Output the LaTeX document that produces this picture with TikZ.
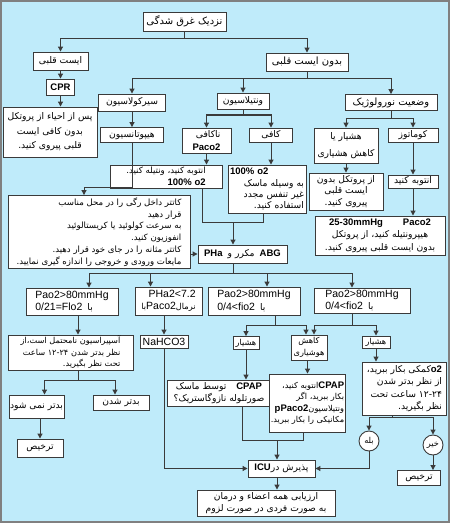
\documentclass[tikz,border=0pt]{standalone}
\usepackage{fontspec}
\setmainfont{Liberation Sans}
\newfontfamily\fafont[Script=Arabic]{DejaVu Sans}
\TeXXeTstate=1
\newcommand\fatext[1]{{\fafont\beginR #1\endR}}
\newcommand\lat[1]{{\fontsize{10.5}{11}\selectfont #1}}
\newcommand\latb[1]{{\fontsize{9.5}{11}\selectfont\bfseries #1}}
\usetikzlibrary{arrows.meta}
\definecolor{skyback}{HTML}{BFEBFA}
\definecolor{edgegray}{HTML}{3A3A3A}

\begin{document}
\begin{tikzpicture}[x=1pt, y=-1pt,
    every node/.style={font=\fontsize{9.2}{12.5}\selectfont},
    box/.style={draw=edgegray, fill=white, line width=0.9pt, inner sep=1pt, align=center},
    small/.style={font=\fontsize{8.2}{11.5}\selectfont},
    large/.style={font=\fontsize{10}{12}\selectfont},
    tight/.style={font=\fontsize{9.2}{11.2}\selectfont},
    bubble/.style={draw=edgegray, fill=white, line width=0.9pt, circle, inner sep=0pt, minimum size=20pt},
    link/.style={draw=edgegray, line width=1pt},
    arr/.style={link, -{Triangle[length=5pt,width=5pt]}},
  ]
  \useasboundingbox (0,0) rectangle (450,524);
  \draw[draw=gray, line width=1.5pt, fill=skyback] (1,1) rectangle (449,522);

  % top of the chart
  \node[box, large, minimum width=83pt, minimum height=19pt] (drown) at (184.5,21.5) {\fatext{نزدیک غرق شدگی}};
  \node[box, minimum width=55pt, minimum height=18pt] (arrest) at (60.5,61) {\fatext{ایست قلبی}};
  \node[box, minimum width=28pt, minimum height=16pt] (cpr) at (60.5,87) {\latb{CPR}};
  \node[box, font=\fontsize{9.2}{14.5}\selectfont, minimum width=94pt, minimum height=50pt] (arrestnote) at (50,132) {\fatext{پس از احیاء از پروتکل}\\\fatext{بدون کافی ایست}\\\fatext{قلبی پیروی کنید.}};
  \node[box, large, minimum width=82pt, minimum height=18pt] (noarrest) at (307,62) {\fatext{بدون ایست قلبی}};

  % circulation, ventilation, neurology
  \node[box, minimum width=67pt, minimum height=17pt] (circ) at (132,102.5) {\fatext{سیرکولاسیون}};
  \node[box, minimum width=52pt, minimum height=16pt] (vent) at (243,101) {\fatext{ونتیلاسیون}};
  \node[box, large, minimum width=92pt, minimum height=16pt] (neuro) at (391,102.5) {\fatext{وضعیت نورولوژیک}};
  \node[box, minimum width=63pt, minimum height=15pt] (hypo) at (132,135) {\fatext{هیپوتانسیون}};
  \node[box, minimum width=49pt, minimum height=25pt, align=right] (inadeq) at (206.5,140.5) {\fatext{ناکافی}\\\latb{Paco2}};
  \node[box, minimum width=43pt, minimum height=14pt] (adeq) at (271,135) {\fatext{کافی}};
  \node[box, font=\fontsize{8.6}{12}\selectfont, minimum width=112pt, minimum height=23pt, align=right] (intub1) at (166,176.5) {\fatext{انتوبه کنید، ونتیله کنید.}\\\latb{100\% o2}};
  \node[box, tight, minimum width=78pt, minimum height=48pt, align=right, text width=74pt] (o2mask) at (267,189) {\makebox[74pt][l]{\latb{100\% o2}}\\\fatext{به وسیله ماسک}\\\fatext{غیر تنفس مجدد}\\\fatext{استفاده کنید.}};
  \node[box, font=\fontsize{9.2}{17}\selectfont, minimum width=64pt, minimum height=35pt] (alert) at (346,145.5) {\fatext{هشیار یا}\\\fatext{کاهش هشیاری}};
  \node[box, minimum width=50pt, minimum height=14pt] (coma) at (413,135) {\fatext{کوماتوز}};
  \node[box, tight, minimum width=74pt, minimum height=37pt] (protocol2) at (346,191.5) {\fatext{از پروتکل بدون}\\\fatext{ایست قلبی}\\\fatext{پیروی کنید.}};
  \node[box, minimum width=50pt, minimum height=13pt] (intub2) at (413,181.5) {\fatext{انتوبه کنید}};
  \node[box, minimum width=130pt, minimum height=39pt] (hyperv) at (380,235.5) {\latb{25-30mmHg}\hspace{20pt}\latb{Paco2}\\\fatext{هیپرونتیله کنید، از پروتکل}\\\fatext{بدون ایست قلبی پیروی کنید.}};
  \node[box, font=\fontsize{8.6}{11.8}\selectfont, minimum width=182pt, minimum height=73pt, align=right] (cath) at (99,232) {\fatext{کاتتر داخل رگی را در محل مناسب}\\\fatext{قرار دهید}\\\fatext{به سرعت کولوئید یا کریستالوئید}\\\fatext{انفوزیون کنید.}\\\fatext{کاتتر مثانه را در جای خود قرار دهید.}\\\fatext{مایعات ورودی و خروجی را اندازه گیری نمایید.}};
  \node[box, minimum width=89pt, minimum height=18pt] (abg) at (242.5,254) {\latb{PHa}\ \ \fatext{مکرر و}\ \ \latb{ABG}};

  % blood gas results
  \node[box, minimum width=92pt, minimum height=27pt, align=left] (pao1) at (72,301.5) {\lat{Pao2>80mmHg}\\\lat{0/21=Flo2}\ \ \fatext{با}};
  \node[box, small, minimum width=67pt, minimum height=28pt, align=right] (pha) at (168.5,301) {\lat{PHa2<7.2}\\\fatext{با}\lat{Paco2}\fatext{نرمال}};
  \node[box, minimum width=92pt, minimum height=28pt, align=left] (pao2) at (254,301) {\lat{Pao2>80mmHg}\\\lat{0/4<fio2}\ \ \fatext{با}};
  \node[box, minimum width=96pt, minimum height=25pt, align=left] (pao3) at (362,300.5) {\lat{Pao2>80mmHg}\\\lat{0/4<fio2}\ \ \fatext{با}};

  % left branch
  \node[box, small, minimum width=125pt, minimum height=35pt, align=right] (asp) at (70.5,352.5) {\fatext{آسپیراسیون نامحتمل است،از}\\\fatext{نظر بدتر شدن ۱۲-۲۴ ساعت}\\\fatext{تحت نظر بگیرید.}};
  \node[box, minimum width=55pt, minimum height=23pt] (notworse) at (36.5,406.5) {\fatext{بدتر نمی شود}};
  \node[box, minimum width=56pt, minimum height=15pt] (worse) at (121,402.5) {\fatext{بدتر شدن}};
  \node[box, minimum width=46pt, minimum height=18pt] (disch1) at (40,448) {\fatext{ترخیص}};
  \node[box, minimum width=48pt, minimum height=13pt] (nahco) at (164,341.5) {\lat{NaHCO3}};

  % right branches
  \node[box, small, minimum width=26pt, minimum height=13pt] (alertA) at (246,343) {\fatext{هشیار}};
  \node[box, small, minimum width=36pt, minimum height=25pt] (reduced) at (309,347.5) {\fatext{کاهش}\\\fatext{هوشیاری}};
  \node[box, small, minimum width=28pt, minimum height=12pt] (alertB) at (376,342) {\fatext{هشیار}};
  \node[box, minimum width=104pt, minimum height=26pt] (cpap) at (219,393) {\fatext{توسط ماسک}\hspace{10pt}\latb{CPAP}\\\fatext{صورتلوله نازوگاستریک؟}};
  \node[box, small, minimum width=66pt, minimum height=58pt, align=right] (intub3) at (307.5,403) {\fatext{انتوبه کنید،}\latb{CPAP}\\\fatext{بکار ببرید، اگر}\\\latb{pPaco2}\fatext{ونتیلاسیون}\\\fatext{مکانیکی را بکار ببرید.}};
  \node[box, minimum width=84pt, minimum height=53pt, align=right] (o2help) at (404.5,388.5) {\fatext{کمکی بکار ببرید،}\latb{o2}\\\fatext{از نظر بدتر شدن}\\\fatext{۱۲-۲۴ ساعت تحت}\\\fatext{نظر بگیرید.}};
  \node[bubble, small] (yes) at (369,441) {\fatext{بله}};
  \node[bubble, small] (no) at (433,445) {\fatext{خیر}};
  \node[box, minimum width=43pt, minimum height=15pt] (disch2) at (419,478) {\fatext{ترخیص}};
  \node[box, minimum width=67pt, minimum height=17pt] (icu) at (281.5,468.5) {\latb{ICU}\fatext{پذیرش در}};
  \node[box, minimum width=138pt, minimum height=26pt] (assess) at (266,503) {\fatext{ارزیابی همه اعضاء و درمان}\\\fatext{به صورت فردی در صورت لزوم}};

  % junctions
  \coordinate (jtop) at (184.5,39);
  \coordinate (jna) at (307,79);
  \coordinate (jhy) at (84,187);
  \coordinate (jv) at (243,115);
  \coordinate (jabg) at (233,222);
  \coordinate (jnr) at (391,118);
  \coordinate (jdec) at (233,273);
  \coordinate (jasp) at (78,380);
  \coordinate (jp2) at (275,325);
  \coordinate (jp3) at (352,325);
  \coordinate (jicu) at (277,440);
  \coordinate (jo2) at (392,417);

  % connectors
  \draw[link] (drown) -- (jtop);
  \draw[arr] (jtop) -| (arrest);
  \draw[arr] (jtop) -| (noarrest);
  \draw[arr] (arrest) -- (cpr);
  \draw[arr] (cpr) -- (cpr |- arrestnote.north);
  \draw[link] (noarrest) -- (jna);
  \draw[arr] (jna) -| (circ);
  \draw[arr] (jna) -| (vent);
  \draw[arr] (jna) -| (neuro);
  \draw[arr] (circ) -- (hypo);
  \draw[arr] (hypo) |- (jhy) -- (jhy |- cath.north);
  \draw[link] (vent) -- (jv);
  \draw[arr] (jv) -| (inadeq);
  \draw[arr] (jv) -| (adeq);
  \draw[arr] (inadeq) -- (inadeq |- intub1.north);
  \draw[arr] (adeq) -- (adeq |- o2mask.north);
  \draw[link] ([xshift=36pt]intub1.south) |- (jabg);
  \draw[link] ([xshift=-4pt]o2mask.south) |- (jabg);
  \draw[arr] (jabg) -- (jabg |- abg.north);
  \draw[arr] (cath.east |- abg) -- (abg);
  \draw[link] (neuro) -- (jnr);
  \draw[arr] (jnr) -| (alert);
  \draw[arr] (jnr) -| (coma);
  \draw[arr] (alert) -- (alert |- protocol2.north);
  \draw[arr] (coma) -- (intub2);
  \draw[arr] (intub2) -- (intub2 |- hyperv.north);
  \draw[link] (abg.south -| jdec) -- (jdec);
  \draw[arr] (jdec) -| ([xshift=17pt]pao1.north);
  \draw[arr] (jdec) -| ([xshift=-18pt]pha.north);
  \draw[arr] (jdec) -| ([xshift=13pt]pao2.north);
  \draw[arr] (jdec) -| ([xshift=-10pt]pao3.north);
  \draw[arr] (pao1.south -| jasp) -- (jasp |- asp.north);
  \draw[link] (asp.south -| jasp) -- (jasp);
  \draw[arr] (jasp) -| ([xshift=8pt]notworse.north);
  \draw[arr] (jasp) -| ([xshift=-6pt]worse.north);
  \draw[arr] (notworse.south -| disch1) -- (disch1);
  \draw[arr] (pha.south -| nahco) -- (nahco);
  \draw[arr] (nahco) |- (icu);
  \draw[link] (pao2.south -| jp2) -- (jp2);
  \draw[arr] (jp2) -| (alertA);
  \draw[arr] (jp2) -| ([xshift=-3pt]reduced.north);
  \draw[link] (pao3.south -| jp3) -- (jp3);
  \draw[arr] (jp3) -| ([xshift=5pt]reduced.north);
  \draw[arr] (jp3) -| (alertB);
  \draw[arr] (alertA) -- (alertA |- cpap.north);
  \draw[arr] (reduced.south -| intub3) -- (intub3);
  \draw[arr] (alertB) -- (alertB |- o2help.north);
  \draw[link] ([xshift=23pt]cpap.south) |- (jicu);
  \draw[link] ([xshift=-4pt]intub3.south) |- (jicu);
  \draw[arr] (jicu) -- (jicu |- icu.north);
  \draw[arr] (icu.south -| jicu) -- (jicu |- assess.north);
  \draw[link] (o2help.south -| jo2) -- (jo2);
  \draw[arr] (jo2) -| (yes);
  \draw[arr] (jo2) -| (no);
  \draw[arr] (yes) |- (icu);
  \draw[arr] (no) -- (no |- disch2.north);

\end{tikzpicture}
\end{document}
